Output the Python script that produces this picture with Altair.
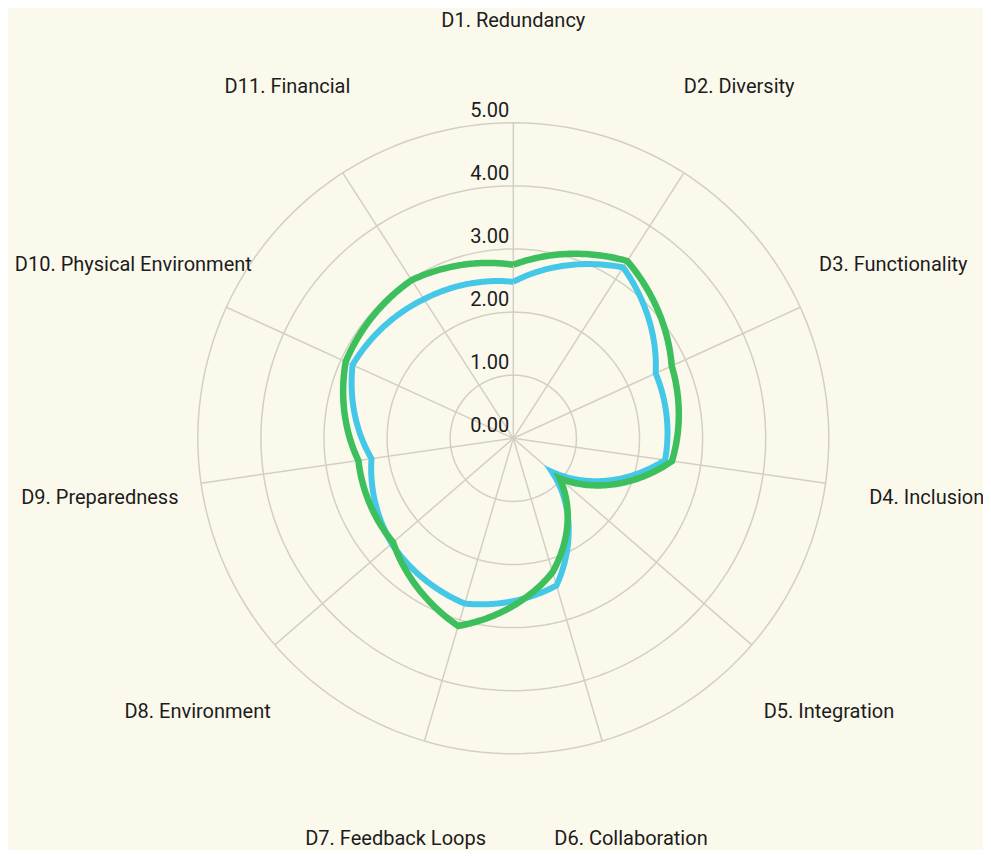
import altair as alt
import pandas as pd

# ---------------- data ----------------
dims = [
    "D1. Redundancy", "D2. Diversity", "D3. Functionality", "D4. Inclusion",
    "D5. Integration", "D6. Collaboration", "D7. Feedback Loops",
    "D8. Environment", "D9. Preparedness", "D10. Physical Environment",
    "D11. Financial",
]
series_names = ["Series A", "Series B"]
values_a = [2.48, 3.22, 2.48, 2.43, 0.81, 2.43, 2.73, 2.55, 2.27, 2.80, 2.62]
values_b = [2.75, 3.34, 2.76, 2.54, 0.97, 2.21, 3.10, 2.52, 2.48, 2.92, 2.98]
levels = [0, 1, 2, 3, 4, 5]
level_labels = ["0.00", "1.00", "2.00", "3.00", "4.00", "5.00"]

# ---------------- layout ----------------
N = len(dims)
W, H = 975, 842
K = 63.1            # pixels per unit
CX, CY = 505.3, 430.3
xdom = [-CX / K, (W - CX) / K]
ydom = [-(H - CY) / K, CY / K]
LABEL_R = 6.62
RMAX = max(levels)

BG = "#fbf9ec"
GRID = "#d3d0c3"
COL_A = "#45c8e8"
COL_B = "#3cbf5c"
FONT = "Roboto"
TXT = "#1c1c1c"

df_series = pd.DataFrame(
    [{"series": series_names[0], "idx": i, "dim": d, "value": v} for i, (d, v) in enumerate(zip(dims, values_a))]
    + [{"series": series_names[1], "idx": i, "dim": d, "value": v} for i, (d, v) in enumerate(zip(dims, values_b))]
)
df_dims = pd.DataFrame({"idx": list(range(N)), "dim": dims})
df_levels = pd.DataFrame({"level": levels, "label": level_labels})

X = alt.X("x:Q", scale=alt.Scale(domain=xdom, nice=False, zero=False), axis=None)
Y = alt.Y("y:Q", scale=alt.Scale(domain=ydom, nice=False, zero=False), axis=None)

# grid circles
circles = (
    alt.Chart(df_levels)
    .transform_filter(alt.datum.level > 0)
    .transform_calculate(steps="sequence(0, 361, 2)")
    .transform_flatten(["steps"], as_=["a"])
    .transform_calculate(x="datum.level * sin(datum.a * PI / 180)")
    .transform_calculate(y="datum.level * cos(datum.a * PI / 180)")
    .mark_line(color=GRID, strokeWidth=1.5)
    .encode(x=X, y=Y, detail="level:N", order="a:Q")
)

# spokes
spokes = (
    alt.Chart(df_dims)
    .transform_calculate(ang=f"datum.idx * 2 * PI / {N}")
    .transform_calculate(x="0", y="0")
    .transform_calculate(xe=f"{RMAX} * sin(datum.ang)", ye=f"{RMAX} * cos(datum.ang)")
    .mark_rule(color=GRID, strokeWidth=1.5)
    .encode(x=X, y=Y, x2="xe:Q", y2="ye:Q")
)


def series_line(name, color, width):
    return (
        alt.Chart(df_series)
        .transform_filter(alt.datum.series == name)
        .transform_window(
            nextv="lead(value)",
            firstv="first_value(value)",
            groupby=["series"],
            sort=[alt.SortField("idx", order="ascending")],
            frame=[None, None],
        )
        .transform_calculate(nv="isValid(datum.nextv) ? datum.nextv : datum.firstv")
        .transform_calculate(steps="sequence(0, 1.00001, 0.02)")
        .transform_flatten(["steps"], as_=["t"])
        .transform_calculate(ang=f"(datum.idx + datum.t) * 2 * PI / {N}")
        .transform_calculate(r="datum.value + datum.t * (datum.nv - datum.value)")
        .transform_calculate(x="datum.r * sin(datum.ang)")
        .transform_calculate(y="datum.r * cos(datum.ang)")
        .transform_calculate(ord="datum.idx + datum.t")
        .mark_line(color=color, strokeWidth=width, strokeJoin="miter")
        .encode(x=X, y=Y, order="ord:Q")
    )


line_a = series_line(series_names[0], COL_A, 6)
line_b = series_line(series_names[1], COL_B, 6.5)

# category labels
dim_labels = (
    alt.Chart(df_dims)
    .transform_calculate(ang=f"datum.idx * 2 * PI / {N}")
    .transform_calculate(x=f"{LABEL_R} * sin(datum.ang)", y=f"{LABEL_R} * cos(datum.ang)")
    .mark_text(font=FONT, fontSize=20, color=TXT, align="center", baseline="middle")
    .encode(x=X, y=Y, text="dim:N")
)

# radial tick labels
tick_labels = (
    alt.Chart(df_levels)
    .transform_calculate(x="0", y="datum.level")
    .mark_text(font=FONT, fontSize=20, color=TXT, align="right", baseline="alphabetic", dx=-4, dy=-6)
    .encode(x=X, y=Y, text="label:N")
)

chart = (
    alt.layer(circles, spokes, line_a, line_b, tick_labels, dim_labels)
    .properties(
        width=W,
        height=H,
        autosize=alt.AutoSizeParams(type="none"),
        padding=0,
        background=BG,
    )
    .configure_view(stroke=None)
)

chart.save("out.html", embed_options={"renderer": "svg", "actions": False})
